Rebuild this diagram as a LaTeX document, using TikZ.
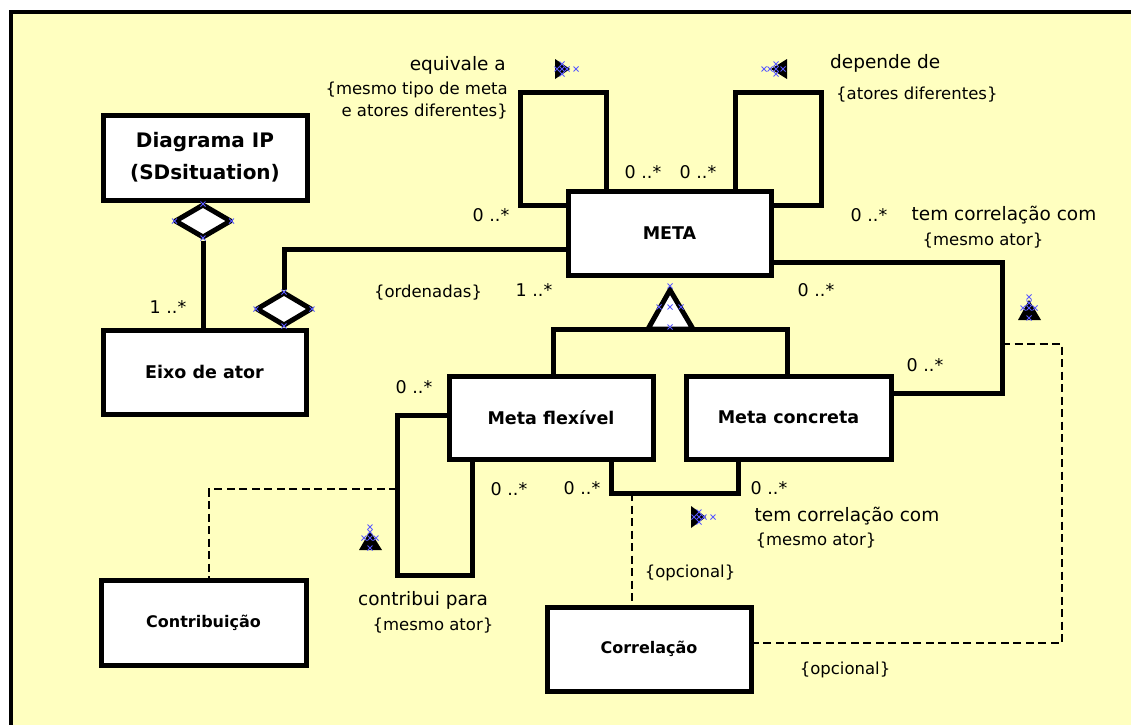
\documentclass[tikz,border=0pt]{standalone}
\usepackage{fontspec}
\setmainfont{DejaVu Sans}
\usetikzlibrary{shapes.geometric}
\definecolor{paper}{RGB}{255,255,192}
\definecolor{handle}{RGB}{90,90,255}

\tikzset{
  box/.style={draw, line width=5pt, fill=white, inner sep=0pt,
              font=\fontsize{17.5}{20}\selectfont\bfseries},
  conn/.style={line width=5pt},
  dash line/.style={line width=2.7pt, dash pattern=on 8pt off 4.5pt},
  agg/.style={diamond, draw, line width=5pt, fill=white, inner sep=0pt, line join=round},
  lbl/.style={inner sep=0pt, font=\fontsize{18.5}{22}\selectfont},
  note/.style={inner sep=0pt, font=\fontsize{16.5}{20}\selectfont},
  mult/.style={inner sep=0pt, font=\fontsize{17.5}{20}\selectfont},
  navi/.style={fill=black},
  handlex/.style={draw=handle, line width=1pt},
}
% small selection handle drawn as a blue cross
\newcommand\handlemark[1]{\draw[handlex] (#1) +(-2.5,-2.5) -- +(2.5,2.5) (#1) +(-2.5,2.5) -- +(2.5,-2.5);}

\begin{document}
\begin{tikzpicture}[x=1pt,y=-1pt]
\useasboundingbox (0,0) rectangle (1131,724);
\clip (0,0) rectangle (1131,724);

% sheet
\fill[white] (0,0) rectangle (1131,724);
\fill[paper] (11,12) rectangle (1140,740);
\draw[line width=4.5pt] (11,740) -- (11,12) -- (1140,12);

% classes
\node[box, minimum width=204pt, minimum height=85pt, align=center,
      font=\fontsize{20}{32}\selectfont\bfseries] (diag) at (205,157.5) {Diagrama IP\\(SDsituation)};
\node[box, minimum width=203pt, minimum height=84pt] (eixo)  at (204.5,372) {Eixo de ator};
\node[box, minimum width=203pt, minimum height=84pt] (meta)  at (669.5,233) {META};
\node[box, minimum width=204pt, minimum height=83pt] (flex)  at (551,417.5) {Meta flexível};
\node[box, minimum width=205pt, minimum height=83pt] (conc)  at (788.5,417.5) {Meta concreta};
\node[box, minimum width=205pt, minimum height=85pt, font=\fontsize{16}{19}\selectfont\bfseries] (contr) at (203.5,622.5) {Contribuição};
\node[box, minimum width=204pt, minimum height=84pt, font=\fontsize{16}{19}\selectfont\bfseries] (corr)  at (649,649) {Correlação};

% aggregation diamonds
\node[agg, minimum width=57pt, minimum height=34pt] (dA) at (203,221) {};
\node[agg, minimum width=56pt, minimum height=34pt] (dB) at (284,309) {};

% corner points of the connectors
\coordinate (oc)   at (284,249);
\coordinate (eqTR) at (606,92);
\coordinate (eqTL) at (520,92);
\coordinate (eqBL) at (520,205);
\coordinate (dpTL) at (735,92);
\coordinate (dpTR) at (821,92);
\coordinate (dpBR) at (821,205);
\coordinate (rcT)  at (1002,262);
\coordinate (rcB)  at (1002,393);
\coordinate (gL)   at (553,329);
\coordinate (gR)   at (787,329);
\coordinate (ctT)  at (397,415);
\coordinate (ctB)  at (397,575);
\coordinate (ctBR) at (472,575);
\coordinate (cdR)  at (397,489);
\coordinate (cdL)  at (209,489);
\coordinate (blL)  at (611,493);
\coordinate (blR)  at (738,493);
\coordinate (bd)   at (632,493);
\coordinate (rdA)  at (1002,344);
\coordinate (rdB)  at (1062,344);
\coordinate (rdC)  at (1062,643);

% composition links
\draw[conn] (dA.south) -- (dA.south |- eixo.north);
\draw[conn] (dB.north) -- (oc) -- (meta.west |- oc);

% reflexive associations of META
\draw[conn] (meta.north -| eqTR) -- (eqTR) -- (eqTL) -- (eqBL) -- (meta.west |- eqBL);
\draw[conn] (meta.north -| dpTL) -- (dpTL) -- (dpTR) -- (dpBR) -- (meta.east |- dpBR);
\draw[conn] (meta.east |- rcT) -- (rcT) -- (rcB) -- (conc.east |- rcB);

% generalization
\draw[conn] (flex.north -| gL) -- (gL) -- (gR) -- (conc.north -| gR);
\draw[line width=5pt, fill=white] (670,290) -- (693,329) -- (648,329) -- cycle;

% contribui para
\draw[conn] (flex.west |- ctT) -- (ctT) -- (ctB) -- (ctBR) -- (flex.south -| ctBR);
\draw[dash line] (cdR) -- (cdL) -- (contr.north -| cdL);

% tem correlacao com (between subclasses)
\draw[conn] (flex.south -| blL) -- (blL) -- (blR) -- (conc.south -| blR);
\draw[dash line] (bd) -- (corr.north -| bd);
\draw[dash line] (rdA) -- (rdB) -- (rdC) -- (corr.east |- rdC);

% reading direction arrows
\fill[navi] (555,59) -- (555,79) -- (570,69) -- cycle;
\fill[navi] (787,59) -- (787,79) -- (771,69) -- cycle;
\fill[navi] (1018,320) -- (1041,320) -- (1029,300) -- cycle;
\fill[navi] (359,550) -- (382,550) -- (370,531) -- cycle;
\fill[navi] (691,506) -- (691,528) -- (706,517) -- cycle;

% selection handles
\foreach \p in {{557,69},{562,64},{562,74},{562,69},{567,69},{576,69},
                {764,69},{770,69},{776,64},{776,74},{776,69},{783,69},
                {1029,297},{1023,308},{1029,308},{1035,308},{1029,318},{1029,303},
                {370,527},{364,538},{370,538},{376,538},{370,548},{370,532},
                {694,517},{699,512},{699,522},{699,517},{704,517},{713,517},
                {203,204},{174.5,221},{231.5,221},{203,238},
                {284,292},{256,309},{312,309},{284,326},
                {670,286},{659,307},{670,307},{681,307},{670,327}}
  {\handlemark{\p}}

% association labels
\node[lbl, anchor=east] (tEq) at (506,65) {equivale a};
\node[note, anchor=east] (tEq1) at (508,90) {\{mesmo tipo de meta};
\node[note, anchor=east] (tEq2) at (508,112) {e atores diferentes\}};
\node[lbl, anchor=west] (tDp) at (830,63) {depende de};
\node[note, anchor=west] (tDp1) at (836,95) {\{atores diferentes\}};
\node[lbl] (tRc) at (1004,215) {tem correlação com};
\node[note] (tRc1) at (983,241) {\{mesmo ator\}};
\node[note] (tOrd) at (428,293) {\{ordenadas\}};
\node[lbl] (tBc) at (847,516) {tem correlação com};
\node[note] (tBc1) at (816,541) {\{mesmo ator\}};
\node[note] (tOp1) at (690,573) {\{opcional\}};
\node[lbl] (tCt) at (423,600) {contribui para};
\node[note] (tCt1) at (433,626) {\{mesmo ator\}};
\node[note] (tOp2) at (845,670) {\{opcional\}};

% multiplicities
\node[mult] (m1) at (491,215) {0 ..*};
\node[mult] (m2) at (643,172) {0 ..*};
\node[mult] (m3) at (698,172) {0 ..*};
\node[mult] (m4) at (869,215) {0 ..*};
\node[mult] (m5) at (168,307) {1 ..*};
\node[mult] (m6) at (534,290) {1 ..*};
\node[mult] (m7) at (816,290) {0 ..*};
\node[mult] (m8) at (925,365) {0 ..*};
\node[mult] (m9) at (414,387) {0 ..*};
\node[mult] (m10) at (509,489) {0 ..*};
\node[mult] (m11) at (582,488) {0 ..*};
\node[mult] (m12) at (769,488) {0 ..*};
\end{tikzpicture}
\end{document}
